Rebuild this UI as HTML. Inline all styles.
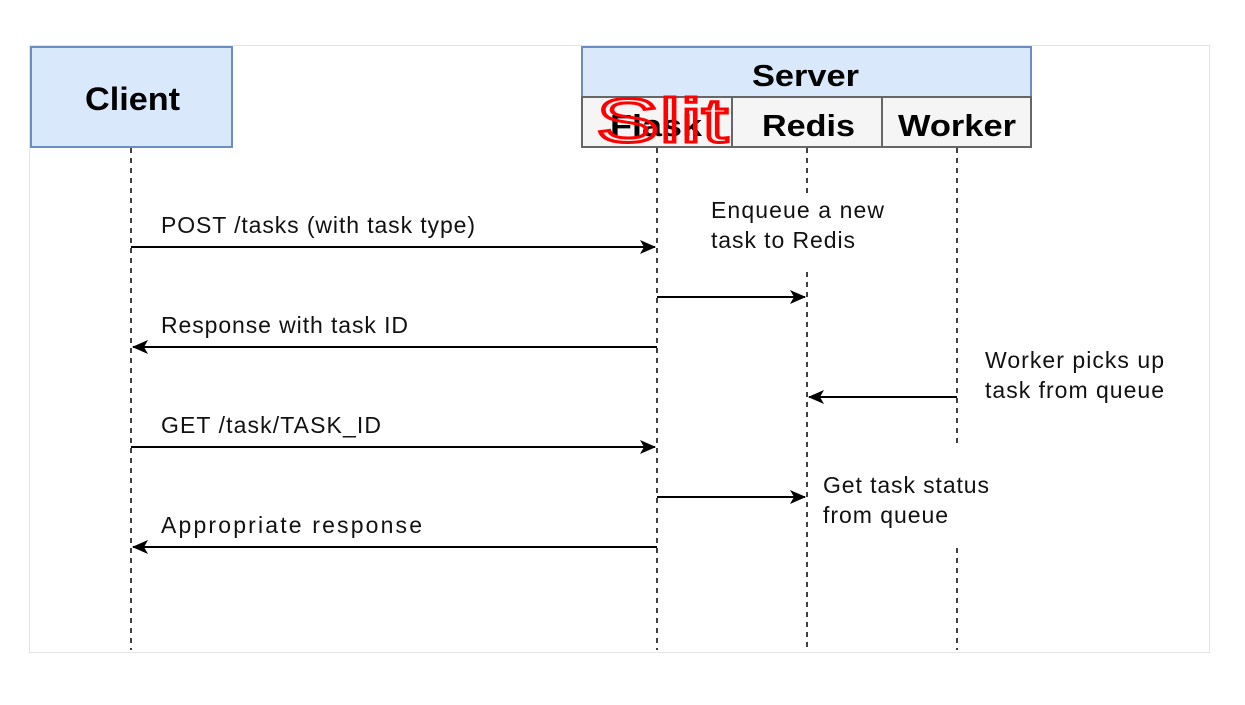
<!DOCTYPE html>
<html><head><meta charset="utf-8"><style>
html,body{margin:0;padding:0;background:#fff;}
svg{display:block;}
text{font-family:"Liberation Sans",Arial,sans-serif;}
</style></head><body>
<svg width="1245" height="705" viewBox="0 0 1245 705" xmlns="http://www.w3.org/2000/svg">
<defs>
<marker id="a" markerWidth="16" markerHeight="14" refX="15" refY="7" orient="auto" markerUnits="userSpaceOnUse">
<path d="M0,0 L16,7 L0,14 L4,7 Z" fill="#000"/>
</marker>
</defs>
<rect x="29.5" y="45.5" width="1180" height="607" fill="#fff" stroke="#e4e4e4" stroke-width="1"/>
<g stroke="#000" stroke-width="1.5" stroke-dasharray="5,5">
<line x1="131" y1="148" x2="131" y2="650"/>
<line x1="657" y1="148" x2="657" y2="650"/>
<line x1="807" y1="148" x2="807" y2="195"/>
<line x1="807" y1="272" x2="807" y2="650"/>
<line x1="957" y1="148" x2="957" y2="447"/>
<line x1="957" y1="548" x2="957" y2="650"/>
</g>
<rect x="31" y="47" width="201" height="100" fill="#dae8fc" stroke="#6c8ebf" stroke-width="2"/>
<text x="85" y="110" font-size="32" font-weight="bold" textLength="95" lengthAdjust="spacingAndGlyphs">Client</text>
<rect x="582" y="47" width="449" height="50" fill="#dae8fc" stroke="#6c8ebf" stroke-width="2"/>
<text x="752" y="86" font-size="31" font-weight="bold" textLength="107" lengthAdjust="spacingAndGlyphs">Server</text>
<g fill="#f5f5f5" stroke="#666" stroke-width="2">
<rect x="582" y="97" width="150" height="50"/>
<rect x="732" y="97" width="150" height="50"/>
<rect x="882" y="97" width="149" height="50"/>
</g>
<g font-size="31" font-weight="bold">
<text x="610" y="136" textLength="92" lengthAdjust="spacingAndGlyphs">Flask</text>
<text x="762" y="136" textLength="93" lengthAdjust="spacingAndGlyphs">Redis</text>
<text x="898" y="136" textLength="118" lengthAdjust="spacingAndGlyphs">Worker</text>
</g>
<g stroke="#000" stroke-width="2" marker-end="url(#a)">
<line x1="131" y1="247" x2="655" y2="247"/>
<line x1="657" y1="297" x2="805" y2="297"/>
<line x1="657" y1="347" x2="133" y2="347"/>
<line x1="957" y1="397" x2="809" y2="397"/>
<line x1="131" y1="447" x2="655" y2="447"/>
<line x1="657" y1="497" x2="805" y2="497"/>
<line x1="657" y1="547" x2="133" y2="547"/>
</g>
<g font-size="23" fill="#111" lengthAdjust="spacingAndGlyphs">
<text x="161" y="233" textLength="314">POST /tasks (with task type)</text>
<text x="161" y="333" textLength="247">Response with task ID</text>
<text x="161" y="433" textLength="220">GET /task/TASK_ID</text>
<text x="161" y="533" textLength="261">Appropriate response</text>
<text x="711" y="218" textLength="173">Enqueue a new</text>
<text x="711" y="248" textLength="144">task to Redis</text>
<text x="985" y="368" textLength="179">Worker picks up</text>
<text x="985" y="398" textLength="179">task from queue</text>
<text x="823" y="493" textLength="166">Get task status</text>
<text x="823" y="523" textLength="125">from queue</text>
</g>
<text x="596" y="142" font-size="62" fill="none" stroke="#ff0000" stroke-width="3" font-family="'DejaVu Sans',sans-serif" textLength="132" lengthAdjust="spacingAndGlyphs">Slit</text>
</svg>
</body></html>
